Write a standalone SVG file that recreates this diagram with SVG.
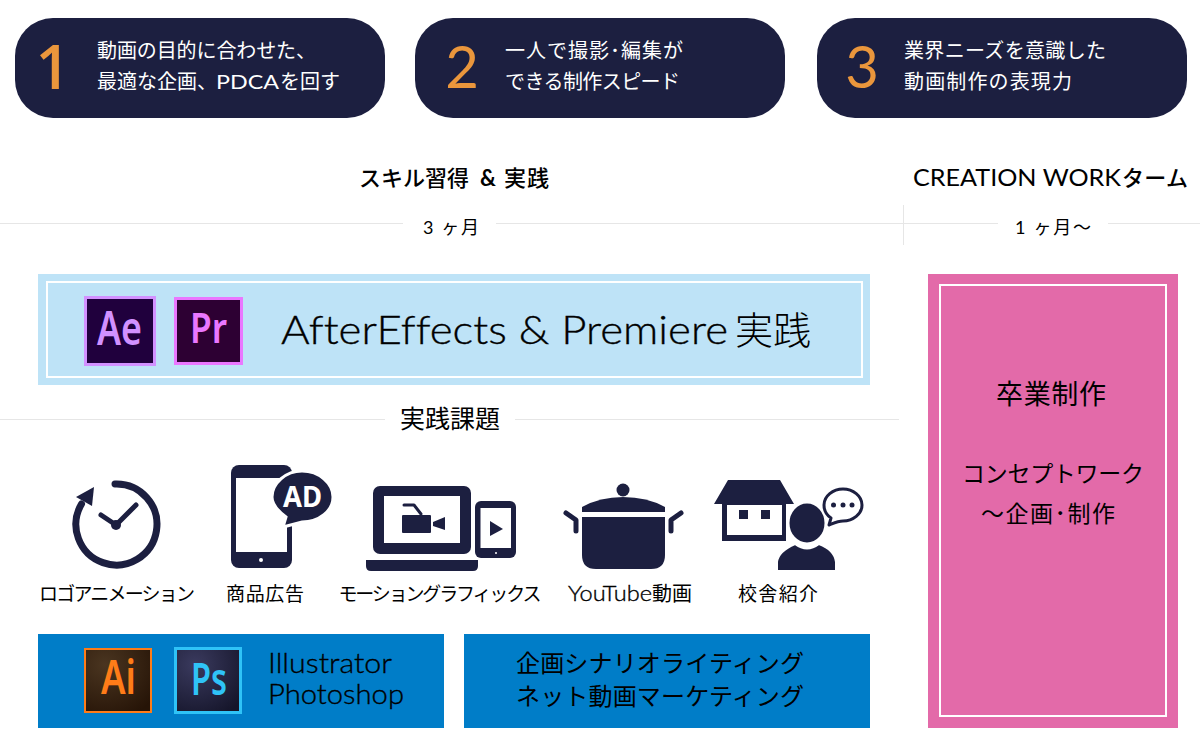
<svg xmlns="http://www.w3.org/2000/svg" width="1200" height="753" viewBox="0 0 1200 753">
<defs>
<style>
text{font-family:"Lato","Noto Sans CJK JP","Noto Sans",sans-serif;fill:#000;font-variant-ligatures:none}
.pill{fill:#1c1f40}
.num{font-family:"Lato",sans-serif;font-size:58px;fill:#ea963c;text-anchor:middle}
.pt{font-size:20px;fill:#fff}
.h{font-size:22px}
.s{font-size:18px;text-anchor:middle}
.l{font-size:19px;text-anchor:middle}
.rule{stroke:#e6e6e6;stroke-width:1;fill:none}
.ic{fill:#1c1f40}
.ln{fill:none;stroke:#1c1f40;stroke-linecap:round;stroke-linejoin:round}
.logo{font-family:"Noto Sans",sans-serif;font-weight:600}
.lt{font-weight:300;stroke:#000;stroke-width:.35px}
.b2{font-size:28px}
.b3{font-size:24px}
</style>
<radialGradient id="ai" cx="30%" cy="25%" r="90%"><stop offset="0" stop-color="#4a3520"/><stop offset="1" stop-color="#261407"/></radialGradient>
<radialGradient id="ps" cx="30%" cy="25%" r="90%"><stop offset="0" stop-color="#3a3a5e"/><stop offset="1" stop-color="#15152a"/></radialGradient>
</defs>
<rect width="1200" height="753" fill="#fff"/>

<g id="pill-1"><rect class="pill" x="15" y="18" width="370" height="100" rx="38"/><text class="num" x="53" y="89" style="font-family:'Open Sans',sans-serif;font-size:61px;font-weight:600">1</text><text class="pt" x="97" y="58" textLength="219">動画の目的に合わせた、</text><text class="pt" x="97" y="89">最適な企画、</text><text class="pt" x="216" y="89" textLength="63" lengthAdjust="spacingAndGlyphs">PDCA</text><text class="pt" x="280" y="89" textLength="60">を回す</text></g>
<g id="pill-2"><rect class="pill" x="415" y="18" width="370" height="100" rx="38"/><text class="num" x="462" y="88">2</text><text class="pt" x="505" y="58" textLength="178">一人で撮影･編集が</text><text class="pt" x="505" y="89" textLength="175">できる制作スピード</text></g>
<g id="pill-3"><rect class="pill" x="817" y="18" width="370" height="100" rx="38"/><text class="num" x="862" y="88">3</text><text class="pt" x="904" y="58" textLength="202">業界ニーズを意識した</text><text class="pt" x="904" y="89" textLength="168">動画制作の表現力</text></g>

<g id="headers">
<text class="h" x="359" y="186" textLength="110" style="font-weight:500">スキル習得</text>
<text class="h" x="480" y="186" style="font-weight:700">&amp;</text>
<text class="h" x="504" y="186" textLength="45" style="font-weight:500">実践</text>
<text x="913" y="186" font-size="24" textLength="208" lengthAdjust="spacingAndGlyphs">CREATION WORK</text>
<text class="h" x="1122" y="186" textLength="66" style="font-weight:500">ターム</text>
<text class="s" x="451" y="234" textLength="56">3 ヶ月</text>
<text class="s" x="1053" y="234" textLength="76">1 ヶ月～</text>
</g>

<g id="connectors">
<path class="rule" d="M0 223.500H403M496 223.500H998M1108 223.500H1200M903.500 205V245M0 419.500H385M515 419.500H899"/>
</g>

<g id="course-main">
<rect x="38" y="274" width="832" height="111" fill="#bee3f7"/>
<rect x="47" y="282" width="815" height="95" fill="none" stroke="#fff" stroke-width="2"/>
<g id="logo-ae"><rect x="85.500" y="297.500" width="69" height="67" fill="#20003d" stroke="#d291ff" stroke-width="3"/><text class="logo" x="97" y="345" font-size="46" textLength="45" lengthAdjust="spacingAndGlyphs" style="fill:#d291ff">Ae</text></g>
<g id="logo-pr"><rect x="175.500" y="298.500" width="66" height="65" fill="#2d0033" stroke="#ea77ff" stroke-width="3"/><text class="logo" x="190" y="343" font-size="42" textLength="37" lengthAdjust="spacingAndGlyphs" style="fill:#ea77ff">Pr</text></g>
<text class="lt" x="281" y="344" font-size="39" textLength="447" lengthAdjust="spacingAndGlyphs">AfterEffects &amp; Premiere</text>
<text x="735" y="344" font-size="38" textLength="76" style="font-weight:300">実践</text>
</g>

<text id="label-practice" x="400" y="428" font-size="25" textLength="100">実践課題</text>

<g id="item-logo">
<path class="ln" stroke-width="7" d="M115 484A40.500 40.500 0 1 1 81.500 504"/>
<path class="ic" d="M94 487L76 497L92 506Z"/>
<path class="ln" stroke-width="5" d="M101 515L116 525L136 505"/>
<circle class="ic" cx="116" cy="525" r="5"/>
<text class="l" x="117" y="601" textLength="156">ロゴアニメーション</text>
</g>

<g id="item-ad">
<rect class="ic" x="231" y="465" width="61" height="103" rx="8"/>
<rect x="236" y="478" width="51" height="74" fill="#fff"/>
<circle cx="261" cy="560" r="2" fill="#fff"/>
<path class="ic" stroke="#fff" stroke-width="3" d="M283 527L286 517C278 511 272 505 272 497C272 483 286 471 302 471C319 471 333 483 333 497C333 511 319 522 302 522Z"/>
<text x="283" y="507" font-size="28" textLength="39" lengthAdjust="spacingAndGlyphs" style="fill:#fff;font-family:'Noto Sans',sans-serif;font-weight:700">AD</text>
<text class="l" x="265" y="601" textLength="78">商品広告</text>
</g>

<g id="item-motion">
<rect class="ic" x="373" y="486" width="98" height="68" rx="7"/>
<rect x="384" y="496" width="76" height="47" fill="#fff"/>
<path class="ic" d="M366 560H478V566Q478 571 473 571H371Q366 571 366 566Z"/>
<rect class="ic" x="402" y="515" width="29" height="18" rx="1"/>
<path class="ic" d="M433 522L445 517V530L433 526Z"/>
<path class="ln" stroke-width="3" d="M404 505H414L421 514"/>
<rect class="ic" x="475" y="501" width="41" height="57" rx="6"/>
<rect x="480.500" y="508" width="30.500" height="40" fill="#fff"/>
<path class="ic" d="M490 521L503 529L490 536Z"/>
<circle cx="496" cy="553" r="1" fill="#fff"/>
<text class="l" x="440" y="601" textLength="203">モーショングラフィックス</text>
</g>

<g id="item-youtube">
<circle class="ic" cx="623" cy="490" r="6.500"/>
<path class="ic" d="M582 512V507Q600 497 623 497Q647 497 665 507V512Z"/>
<path class="ic" d="M582 517H665V555Q665 569 651 569H596Q582 569 582 555Z"/>
<path class="ln" stroke-width="5" d="M566 513L576 520V531M681 513L671 520V531"/>
<text class="lt" x="568" y="601" font-size="21" textLength="84" lengthAdjust="spacingAndGlyphs">YouTube</text>
<text x="652" y="601" font-size="20" textLength="40">動画</text>
</g>

<g id="item-school">
<path class="ic" d="M714 504L728 480H780L794 504H786V541H722V504Z"/>
<rect x="727" y="505" width="55" height="30" fill="#fff"/>
<rect class="ic" x="739" y="510" width="9" height="9"/>
<rect class="ic" x="761" y="510" width="9" height="9"/>
<ellipse class="ic" cx="807" cy="523" rx="19" ry="21" stroke="#fff" stroke-width="3"/>
<path class="ic" stroke="#fff" stroke-width="2" d="M777 571V562C778 553 788 547 795 544C803 550 811 550 819 544C827 547 835 553 836 562V571Z"/>
<path class="ln" stroke-width="3" style="fill:#fff" d="M829 525L831 518C825 514 824 510 824 505C824 496 833 489 843 489C853 489 862 496 862 505C862 514 853 521 843 521C838 521 834 523 829 525Z"/>
<circle class="ic" cx="833.500" cy="505" r="2.500"/><circle class="ic" cx="843" cy="505" r="2.500"/><circle class="ic" cx="852" cy="505" r="2.500"/>
<text class="l" x="778" y="601" textLength="80">校舎紹介</text>
</g>

<g id="course-tools">
<rect x="38" y="634" width="406" height="94" fill="#007dc8"/>
<g id="logo-ai"><rect x="85" y="649" width="66" height="63" fill="url(#ai)" stroke="#ff7c18" stroke-width="2"/><text class="logo" x="101" y="694" font-size="46" textLength="35" lengthAdjust="spacingAndGlyphs" style="fill:#ff7c18">Ai</text></g>
<g id="logo-ps"><rect x="175.500" y="648.500" width="65" height="64" fill="url(#ps)" stroke="#2fc3f7" stroke-width="3"/><text class="logo" x="191" y="695" font-size="45" textLength="36" lengthAdjust="spacingAndGlyphs" style="fill:#2fc3f7">Ps</text></g>
<text class="b2 lt" x="268" y="673" textLength="124" lengthAdjust="spacingAndGlyphs">Illustrator</text>
<text class="b2 lt" x="268" y="704" textLength="136" lengthAdjust="spacingAndGlyphs">Photoshop</text>
</g>

<g id="course-planning">
<rect x="464" y="634" width="406" height="94" fill="#007dc8"/>
<text class="b3" x="516" y="672" textLength="288">企画シナリオライティング</text>
<text class="b3" x="516" y="705" textLength="288">ネット動画マーケティング</text>
</g>

<g id="course-graduation">
<rect x="928" y="274" width="250" height="454" fill="#e36aa9"/>
<rect x="940" y="285" width="226" height="431" fill="none" stroke="#fff" stroke-width="2"/>
<text x="1051" y="404" text-anchor="middle" font-size="27" textLength="110">卒業制作</text>
<text x="1053" y="482" text-anchor="middle" font-size="23" textLength="182">コンセプトワーク</text>
<text x="1048" y="522" text-anchor="middle" font-size="23" textLength="134">～企画･制作</text>
</g>
</svg>
